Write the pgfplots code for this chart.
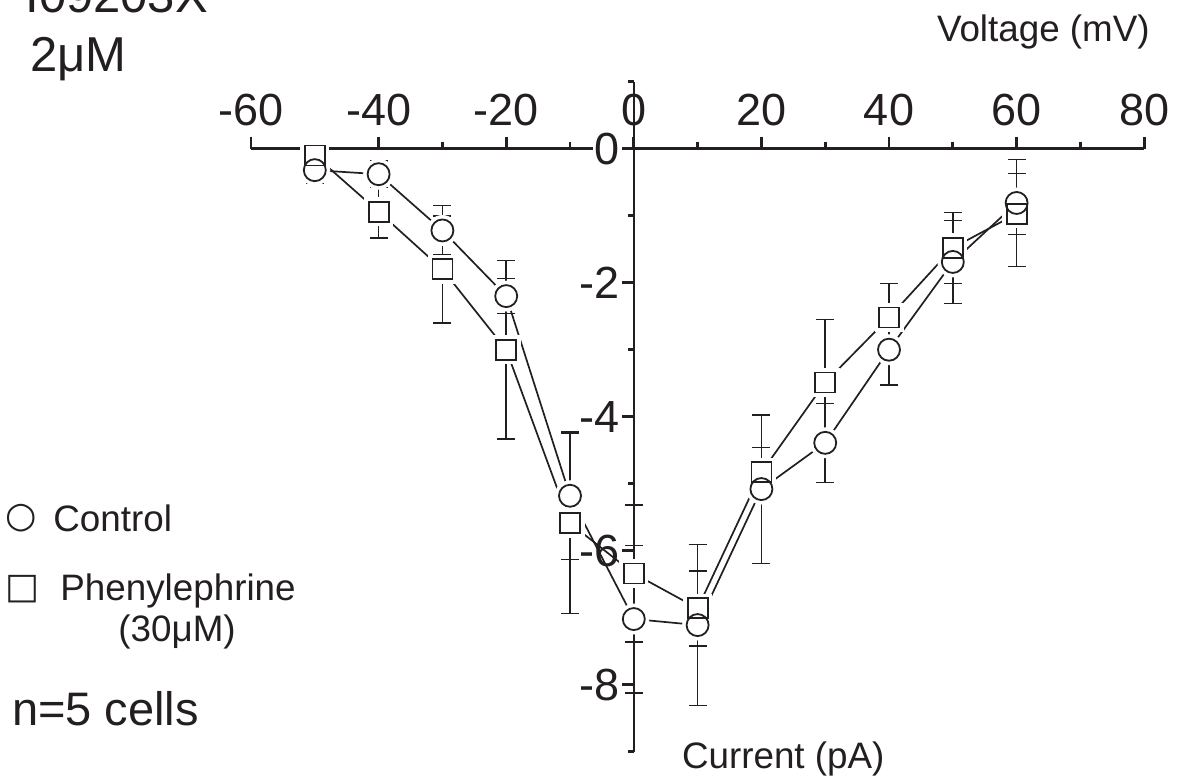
\documentclass[border=0pt]{standalone}
\usepackage{fontspec}
\setmainfont{Liberation Sans}
\newfontfamily\sym{DejaVu Sans}
\usepackage{pgfplots}
\usepackage{pgfplotstable}
\pgfplotsset{compat=1.18}
\definecolor{ink}{RGB}{35,31,32}
\newcommand{\fs}[1]{\fontsize{#1}{#1}\selectfont}

% voltage (mV), current (pA), error up, error down
\pgfplotstableread{
V   I      ep    em
-50 -0.32  0.20  0.20
-40 -0.38  0.20  0.20
-30 -1.22  0.37  0.37
-20 -2.20  0.26  0.26
-10 -5.18  0.95  0.95
0   -7.02  1.10  1.10
10  -7.11  1.20  1.20
20  -5.08  1.11  1.11
30  -4.39  0.59  0.59
40  -3.00  0.53  0.53
50  -1.69  0.62  0.62
60  -0.81  0.65  0.47
}\control

\pgfplotstableread{
V   I      ep    em
-50 -0.10  0.05  0.20
-40 -0.94  0.39  0.39
-30 -1.80  0.80  0.80
-20 -3.00  1.33  1.33
-10 -5.59  1.35  1.35
0   -6.34  1.02  1.02
10  -6.86  0.56  0.56
20  -4.83  0.37  0.37
30  -3.49  0.94  0.94
40  -2.52  0.51  0.51
50  -1.48  0.53  0.53
60  -0.97  0.60  0.79
}\phen

\pgfplotsset{
  base/.style={scale only axis, width=446.6pt, height=301.5pt,
    at={(125.5pt,13.15pt)}, anchor=south west,
    xmin=-60, xmax=80, ymin=-9, ymax=0, clip=false},
  errs/.style={error bars/.cd, y dir=both, y explicit,
    error bar style={ink, line width=0.8pt},
    error mark options={ink, line width=0.8pt, mark size=4.5pt, rotate=90}},
}

\begin{document}
\begin{tikzpicture}
\useasboundingbox (0,0) rectangle (596.5pt,389pt);
\clip (0,0) rectangle (596.5pt,389pt);

% x axis (voltage) along the top
\begin{axis}[base,
  axis x line*=top, axis y line=none,
  axis line style={ink, line width=1.35pt},
  tick style={ink, line width=1.35pt},
  tick align=outside,
  major tick length=6pt, minor tick length=3.5pt,
  xtick={-60,-40,...,80},
  xticklabels={-60,-40,-20,0,20,40,60,80},
  minor xtick={-50,-30,...,70},
  xticklabel style={font=\fs{22.5pt}, text=ink, inner sep=1pt, yshift=4pt},
]
\end{axis}

% y axis (current) through V = 0
\begin{axis}[scale only axis, width=1pt, height=335pt,
  at={(317pt,13.15pt)}, anchor=south west,
  xmin=0, xmax=1, ymin=-9, ymax=1,
  axis y line*=left, axis x line=none,
  axis line style={ink, line width=1.35pt},
  tick style={ink, line width=1.35pt},
  tick align=outside,
  major tick length=6pt, minor tick length=3pt,
  ytick={-8,-6,-4,-2,0},
  yticklabels={-8,-6,-4,-2,0},
  minor ytick={-9,-7,-5,-3,-1,1},
  yticklabel style={font=\fs{22.5pt}, text=ink, fill=white, inner sep=1pt},
]
\end{axis}

% data
\begin{axis}[base, hide axis]
\addplot[ink, line width=0.85pt] table[x=V, y=I] {\control};
\addplot[ink, line width=0.85pt] table[x=V, y=I] {\phen};
% white halos leave a gap between lines and symbols
\addplot[white, only marks, mark=*, mark size=7.5pt] table[x=V, y=I] {\control};
\addplot[white, only marks, mark=square*, mark size=7pt] table[x=V, y=I] {\phen};
\addplot[ink, only marks, mark=o, mark size=5.5pt, mark options={line width=0.9pt}, errs]
  table[x=V, y=I, y error plus=ep, y error minus=em] {\control};
\addplot[ink, only marks, mark=square, mark size=5pt, mark options={line width=0.9pt}, errs]
  table[x=V, y=I, y error plus=ep, y error minus=em] {\phen};
\end{axis}

% labels
\begin{scope}[every node/.style={text=ink, inner sep=0pt, anchor=base west}]
\node[font=\fs{24.5pt}] at (12.5pt,382.5pt) {I09203X};
\node[font=\fs{24.5pt}] at (15pt,353.2pt) {2μM};
\node[font=\fs{18.4pt}] at (468.3pt,368pt) {Voltage (mV)};
\node[font=\fs{18.4pt}] at (340.8pt,5pt) {Current (pA)};
\node[font=\fs{18.4pt}] at (26.5pt,123.2pt) {Control};
\node[font=\fs{18.4pt}] at (30pt,89pt) {Phenylephrine};
\node[font=\fs{18.4pt}] at (59pt,68.2pt) {(30μM)};
\node[font=\fs{23.5pt}] at (5.8pt,26.5pt) {n=5 cells};
\node[font=\sym\fs{18pt}, anchor=center] at (10.75pt,130pt) {○};
\node[font=\sym\fs{18pt}, anchor=center] at (11.5pt,94.5pt) {□};
\end{scope}
\end{tikzpicture}
\end{document}
